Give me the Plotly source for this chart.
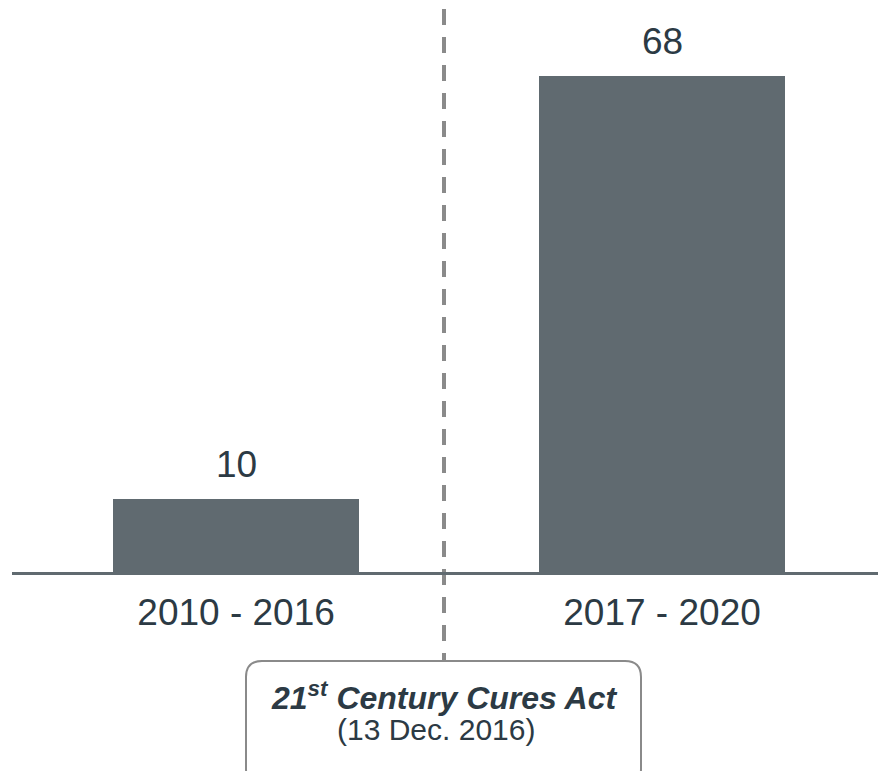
import plotly.graph_objects as go

categories = ["2010 - 2016", "2017 - 2020"]
values = [10, 68]
event_title = "<b><i>21<sup>st</sup> Century Cures Act</i></b>"
event_date = "(13 Dec. 2016)"

W, H = 878, 771
L, R, T, B = 12, 0, 0, 199
pw, ph = W - L - R, H - T - B

def px2x(px):
    return (px - L) / pw

def py2y(py):
    return (H - B - py) / ph

BAR = "#606a70"
TXT = "#2c3a44"
GREY = "#8a8a8a"
FONT = "Liberation Sans, Arial, sans-serif"

fig = go.Figure()
fig.add_trace(go.Bar(
    x=[0, 1], y=values, width=0.577, marker=dict(color=BAR, line=dict(width=0)),
    hoverinfo="skip", showlegend=False,
))

for i, v in enumerate(values):
    fig.add_annotation(x=i, y=v, xref="x", yref="y", text=str(v), showarrow=False,
                       yanchor="bottom", yshift=12, font=dict(family=FONT, size=37, color=TXT))

# dashed divider
fig.add_shape(type="line", xref="paper", yref="paper",
              x0=px2x(444), x1=px2x(444), y0=py2y(9), y1=py2y(661),
              line=dict(color=GREY, width=4, dash="16px,12px"), layer="below")

# rounded box
x0, x1, y0, y1, r = px2x(246), px2x(641), py2y(661), py2y(785), 16
rx, ry = r / pw, r / ph
path = (f"M {x0+rx},{y0} L {x1-rx},{y0} Q {x1},{y0} {x1},{y0-ry} "
        f"L {x1},{y1+ry} Q {x1},{y1} {x1-rx},{y1} L {x0+rx},{y1} "
        f"Q {x0},{y1} {x0},{y1+ry} L {x0},{y0-ry} Q {x0},{y0} {x0+rx},{y0} Z")
fig.add_shape(type="path", xref="paper", yref="paper", path=path,
              line=dict(color=GREY, width=2), fillcolor="white", layer="above")

fig.add_annotation(x=px2x(444), y=py2y(696), xref="paper", yref="paper", text=event_title,
                   showarrow=False, xanchor="center", yanchor="middle",
                   font=dict(family=FONT, size=32, color=TXT))
fig.add_annotation(x=px2x(436), y=py2y(729), xref="paper", yref="paper", text=event_date,
                   showarrow=False, xanchor="center", yanchor="middle",
                   font=dict(family=FONT, size=30, color=TXT))

fig.update_layout(
    width=W, height=H, margin=dict(l=L, r=R, t=T, b=B),
    paper_bgcolor="white", plot_bgcolor="white",
    xaxis=dict(range=[-0.526, 1.507], tickvals=[0, 1], ticktext=categories,
               showgrid=False, zeroline=False, showline=True, linecolor=BAR, linewidth=3,
               ticks="", ticklabelstandoff=6,
               tickfont=dict(family=FONT, size=37, color=TXT), fixedrange=True),
    yaxis=dict(range=[0, 78.42], visible=False, showgrid=False, zeroline=False, fixedrange=True),
    bargap=0,
)

fig.write_html("out.html", config={"displayModeBar": False})
